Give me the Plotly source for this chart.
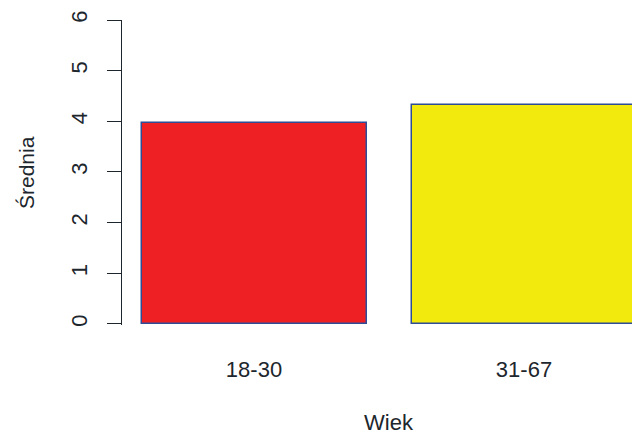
import plotly.graph_objects as go

categories = ["18-30", "31-67"]
values = [3.96, 4.32]
bar_colors = ["#EE2024", "#F2EA0D"]
y_ticks = [0, 1, 2, 3, 4, 5, 6]
x_title = "Wiek"
y_title = "Średnia"

FONT = "Liberation Sans, Arial, Helvetica, sans-serif"
INK = "#1c262c"

fig = go.Figure()
fig.add_trace(go.Bar(
    x=categories, y=values,
    marker=dict(color=bar_colors, line=dict(color="#2F4C96", width=1.5)),
    width=1 / 1.2,
    showlegend=False,
))

fig.update_layout(
    width=632, height=434,
    margin=dict(l=122, r=0, t=20, b=109),
    paper_bgcolor="white", plot_bgcolor="white",
    font=dict(family=FONT, size=22, color=INK),
    bargap=0,
    xaxis=dict(
        type="category", categoryorder="array", categoryarray=categories,
        range=[-0.4889, 1.4], showline=False, showgrid=False, zeroline=False,
        ticks="", ticklabelstandoff=29,
        tickfont=dict(family=FONT, size=22, color=INK),
    ),
    yaxis=dict(
        range=[-0.02, 6], tickvals=y_ticks, ticktext=[str(v) for v in y_ticks],
        showline=True, linecolor=INK, linewidth=1.3,
        ticks="outside", ticklen=14, tickwidth=1.3, tickcolor=INK,
        showgrid=False, zeroline=False, tickangle=-90,
        ticklabelstandoff=11,
        tickfont=dict(family=FONT, size=22, color=INK),
    ),
    annotations=[
        dict(text=x_title, xref="paper", yref="paper", x=(389 - 122) / 510, y=-(422 - 325) / 305,
             xanchor="center", yanchor="middle", showarrow=False,
             font=dict(family=FONT, size=22, color=INK)),
        dict(text=y_title, xref="paper", yref="paper", x=-(122 - 26) / 510, y=(325 - 173) / 305,
             xanchor="center", yanchor="middle", showarrow=False, textangle=-90,
             font=dict(family=FONT, size=21, color=INK)),
    ],
)

fig.write_html("out.html", config={"displayModeBar": False},
               post_script="document.body.style.margin='0';document.body.style.overflow='hidden';")
